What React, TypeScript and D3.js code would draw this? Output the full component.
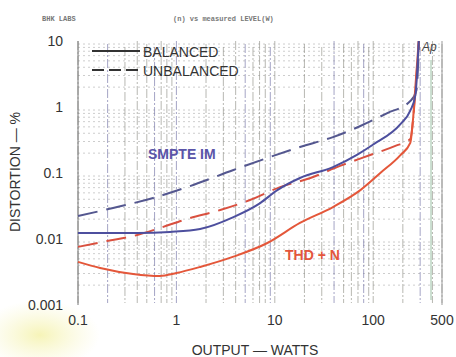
import * as d3 from "d3";

// log-log distortion vs output power
const xTicks = [0.1, 1, 10, 100, 500];
const yTicks = [0.001, 0.01, 0.1, 1, 10];
const yTickLabels = ["0.001", "0.01", "0.1", "1", "10"];

const imWatts = [0.1, 0.4, 0.86, 1.74, 3.8, 7.1, 10.6, 18, 39, 69, 100, 189, 238, 268, 290];
const imBal = [0.0123, 0.0123, 0.0128, 0.0142, 0.0215, 0.035, 0.055, 0.084, 0.123, 0.19, 0.27, 0.55, 0.88, 1.5, 10];

const imUnbWatts = [0.1, 0.227, 0.58, 1.28, 3.8, 8.4, 18, 39, 74, 139, 238, 275, 292];
const imUnb = [0.0223, 0.0295, 0.0418, 0.061, 0.111, 0.169, 0.248, 0.35, 0.515, 0.81, 1.23, 1.8, 10];

const thdWatts = [0.1, 0.168, 0.363, 0.68, 1.0, 1.74, 3.8, 8.4, 18, 39, 74, 118, 189, 238, 255, 268, 290];
const thdBal = [0.0045, 0.00364, 0.00295, 0.00275, 0.00305, 0.00377, 0.0054, 0.0087, 0.0175, 0.0305, 0.055, 0.1, 0.187, 0.285, 0.71, 2.0, 10];

const thdUnbWatts = [0.1, 0.197, 0.4, 0.68, 1.28, 2.79, 5.6, 11.3, 23, 46, 93, 168, 238, 255, 272, 291];
const thdUnb = [0.0076, 0.0093, 0.0115, 0.0147, 0.0201, 0.0275, 0.039, 0.061, 0.084, 0.128, 0.187, 0.257, 0.327, 0.68, 2.3, 10];

const W = 456;
const H = 357;
const FONT = "'Liberation Sans', Arial, sans-serif";

export default function App() {
  const x = d3.scaleLog().domain([0.1, 500]).range([78, 442]);
  const y = d3.scaleLog().domain([0.001, 10]).range([305, 41]);

  const line = d3
    .line<[number, number]>()
    .x((d) => x(d[0]))
    .y((d) => y(d[1]))
    .curve(d3.curveMonotoneX);
  const path = (ws: number[], vs: number[]) => line(ws.map((w, i) => [w, vs[i]] as [number, number])) ?? "";

  // graph-paper verticals: every 1..9 x 10^k between 0.1 and 500
  const vGrid: number[] = [];
  for (let e = -1; e <= 2; e++) for (let m = 1; m <= 9; m++) { const v = m * Math.pow(10, e); if (v <= 500) vGrid.push(v); }
  const hGrid: number[] = [];
  for (let e = -3; e <= 0; e++) for (let m = 2; m <= 9; m++) hGrid.push(m * Math.pow(10, e));

  return (
    <div style={{ position: "fixed", left: 0, top: 0 }}>
      <svg width={W} height={H} style={{ display: "block", background: "#fff" }}>
        <defs>
          <radialGradient id="stain" cx="0.5" cy="0.5" r="0.5">
            <stop offset="0%" stopColor="#f3f0a0" stopOpacity={0.75} />
            <stop offset="100%" stopColor="#f7f5c0" stopOpacity={0} />
          </radialGradient>
        </defs>
        <ellipse cx={40} cy={335} rx={60} ry={35} fill="url(#stain)" />

        <text x={42} y={21} fontSize="7" fontWeight="bold" fontFamily="'Liberation Mono', monospace" fill="#777">BHK LABS</text>
        <text x={173} y={21} fontSize="7" fontWeight="bold" fontFamily="'Liberation Mono', monospace" fill="#777">(n) vs measured LEVEL(W)</text>

        {hGrid.map((v) => (
          <line key={`h${v}`} x1={78} x2={442} y1={y(v)} y2={y(v)} stroke="#b8b8b8" strokeWidth={0.7} strokeDasharray="2,3" />
        ))}
        {vGrid.map((v, i) => (
          <line key={`v${v}`} x1={x(v)} x2={x(v)} y1={41 + (i % 3) * 3} y2={303} stroke={i % 4 === 1 ? "#6a6aa0" : "#8a8a80"} strokeWidth={1} strokeDasharray="9,2,2,2" opacity={0.6} />
        ))}
        <line x1={78} x2={78} y1={41} y2={305} stroke="#777" strokeWidth={1} />
        <line x1={442} x2={442} y1={41} y2={305} stroke="#999" strokeWidth={1} />
        <line x1={431} x2={431} y1={60} y2={300} stroke="#5a9a6a" strokeWidth={1} opacity={0.6} />

        {yTicks.map((t, i) => (
          <text key={`y${t}`} x={63} y={y(t) + 5} textAnchor="end" fontSize="14" fontFamily={FONT} fill="#333">{yTickLabels[i]}</text>
        ))}
        {xTicks.map((t) => (
          <text key={`x${t}`} x={x(t)} y={325} textAnchor="middle" fontSize="14" fontFamily={FONT} fill="#333">{t}</text>
        ))}
        <text x={255} y={355} textAnchor="middle" fontSize="14" fontFamily={FONT} fill="#333">OUTPUT — WATTS</text>
        <text transform="translate(20,172) rotate(-90)" textAnchor="middle" fontSize="14" fontFamily={FONT} fill="#333">DISTORTION — %</text>

        <path d={path(thdUnbWatts, thdUnb)} fill="none" stroke="#d9503f" strokeWidth={2} strokeDasharray="20,9" />
        <path d={path(imUnbWatts, imUnb)} fill="none" stroke="#54578f" strokeWidth={2} strokeDasharray="20,9" />
        <path d={path(thdWatts, thdBal)} fill="none" stroke="#e4573a" strokeWidth={2} />
        <path d={path(imWatts, imBal)} fill="none" stroke="#4d4f9e" strokeWidth={2} />

        <line x1={92} x2={140} y1={51} y2={51} stroke="#333" strokeWidth={2} />
        <text x={143} y={57} fontSize="14" fontFamily={FONT} fill="#333">BALANCED</text>
        <line x1={92} x2={140} y1={70} y2={70} stroke="#333" strokeWidth={2} strokeDasharray="12,5" />
        <text x={143} y={76} fontSize="14" fontFamily={FONT} fill="#333">UNBALANCED</text>

        <text x={148} y={159} fontSize="14" fontWeight="bold" fontFamily={FONT} fill="#5a54a8">SMPTE IM</text>
        <text x={285} y={260} fontSize="14" fontWeight="bold" fontFamily={FONT} fill="#e4553c">THD + N</text>
        <text x={422} y={51} fontSize="12" fontStyle="italic" fontFamily={FONT} fill="#444">Ap</text>
      </svg>
    </div>
  );
}
